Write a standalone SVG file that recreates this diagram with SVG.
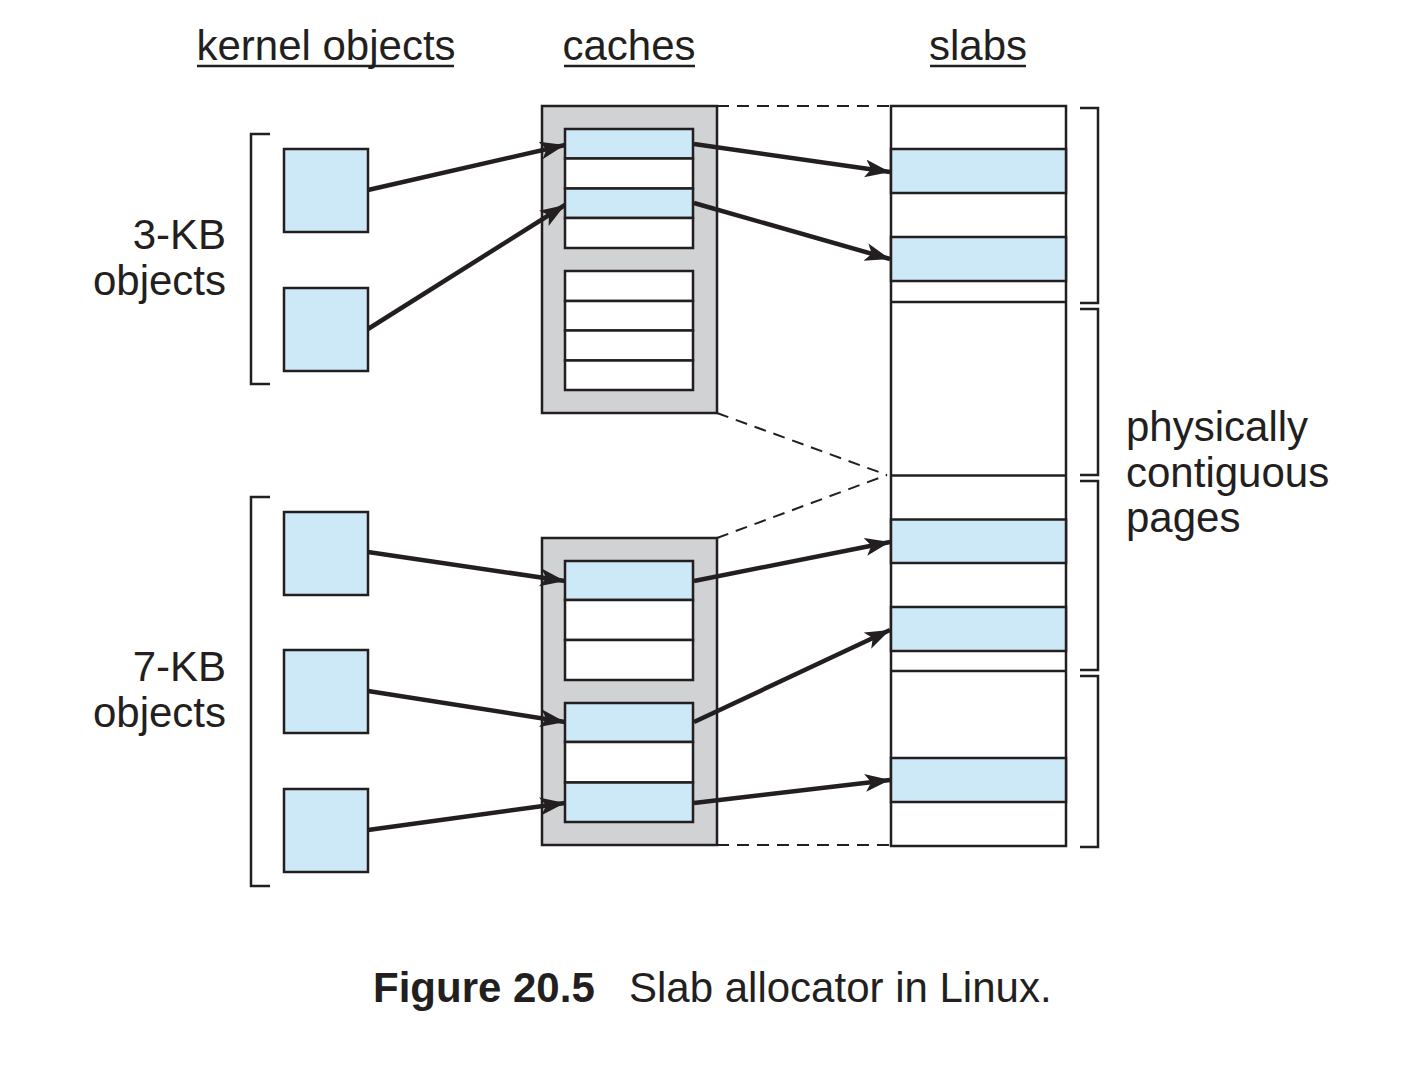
<svg xmlns="http://www.w3.org/2000/svg" width="1424" height="1066" viewBox="0 0 1424 1066">
<style>
text{font-family:"Liberation Sans",Arial,sans-serif;font-size:42px;fill:#231f20}
.hdr{text-anchor:middle}
.obj{fill:#cde8f6;stroke:#231f20;stroke-width:2.5}
.wht{fill:#ffffff;stroke:#231f20;stroke-width:2.5}
.gry{fill:#d1d2d4;stroke:#231f20;stroke-width:2.5}
.brk{fill:none;stroke:#231f20;stroke-width:2.5}
.ul{stroke:#231f20;stroke-width:2.5}
.dash{fill:none;stroke:#231f20;stroke-width:2;stroke-dasharray:12 8}
.arr{fill:none;stroke:#231f20;stroke-width:4.5;marker-end:url(#ah)}
</style>
<defs>
<marker id="ah" markerUnits="userSpaceOnUse" markerWidth="28" markerHeight="20" refX="25" refY="9" orient="auto">
<path d="M0,0 L25,9 L0,18 L6,9 Z" fill="#231f20"/>
</marker>
</defs>
<rect width="1424" height="1066" fill="#ffffff"/>

<g id="headers">
<text class="hdr" x="326" y="60">kernel objects</text>
<line class="ul" x1="197" y1="66" x2="454" y2="66"/>
<text class="hdr" x="629" y="60">caches</text>
<line class="ul" x1="564" y1="66" x2="695" y2="66"/>
<text class="hdr" x="978" y="60">slabs</text>
<line class="ul" x1="930" y1="66" x2="1026" y2="66"/>
</g>

<g id="label-3kb">
<text x="226" y="249" text-anchor="end">3-KB</text>
<text x="226" y="295" text-anchor="end">objects</text>
<path class="brk" d="M270,134 H251 V384 H270"/>
</g>
<g id="label-7kb">
<text x="226" y="681" text-anchor="end">7-KB</text>
<text x="226" y="727" text-anchor="end">objects</text>
<path class="brk" d="M270,497 H251 V886 H270"/>
</g>

<g id="kernel-objects">
<rect id="obj1" class="obj" x="284" y="149" width="84" height="83"/>
<rect id="obj2" class="obj" x="284" y="288" width="84" height="83"/>
<rect id="obj3" class="obj" x="284" y="512" width="84" height="83"/>
<rect id="obj4" class="obj" x="284" y="650" width="84" height="83"/>
<rect id="obj5" class="obj" x="284" y="789" width="84" height="83"/>
</g>

<g id="cache-3kb">
<rect class="gry" x="542" y="106" width="175" height="307"/>
<rect class="obj" x="565" y="129" width="128" height="29.5"/>
<rect class="wht" x="565" y="158.5" width="128" height="30"/>
<rect class="obj" x="565" y="188.5" width="128" height="29.5"/>
<rect class="wht" x="565" y="218" width="128" height="30"/>
<rect class="wht" x="565" y="271" width="128" height="30"/>
<rect class="wht" x="565" y="301" width="128" height="29.5"/>
<rect class="wht" x="565" y="330.5" width="128" height="30"/>
<rect class="wht" x="565" y="360.5" width="128" height="29.5"/>
</g>

<g id="cache-7kb">
<rect class="gry" x="542" y="538" width="175" height="307"/>
<rect class="obj" x="565" y="561" width="128" height="39"/>
<rect class="wht" x="565" y="600" width="128" height="40"/>
<rect class="wht" x="565" y="640" width="128" height="40"/>
<rect class="obj" x="565" y="703" width="128" height="39"/>
<rect class="wht" x="565" y="742" width="128" height="40.5"/>
<rect class="obj" x="565" y="782.5" width="128" height="39.5"/>
</g>

<g id="slabs">
<rect class="wht" x="891" y="106" width="175" height="740"/>
<rect class="obj" x="891" y="149" width="175" height="44"/>
<rect class="obj" x="891" y="237" width="175" height="44"/>
<line class="ul" x1="891" y1="302" x2="1066" y2="302"/>
<line class="ul" x1="891" y1="475.5" x2="1066" y2="475.5"/>
<rect class="obj" x="891" y="519.5" width="175" height="43.5"/>
<rect class="obj" x="891" y="607" width="175" height="44"/>
<line class="ul" x1="891" y1="671" x2="1066" y2="671"/>
<rect class="obj" x="891" y="758" width="175" height="44"/>
</g>

<g id="pages-brackets">
<path class="brk" d="M1080,108 H1098 V303 H1080"/>
<path class="brk" d="M1080,309 H1098 V475 H1080"/>
<path class="brk" d="M1080,481 H1098 V670 H1080"/>
<path class="brk" d="M1080,676 H1098 V847 H1080"/>
<text x="1126" y="441">physically</text>
<text x="1126" y="487">contiguous</text>
<text x="1126" y="532">pages</text>
</g>

<g id="connectors">
<line class="dash" x1="717" y1="106" x2="891" y2="106"/>
<line class="dash" x1="717" y1="413" x2="887" y2="475"/>
<line class="dash" x1="717" y1="538" x2="887" y2="475"/>
<line class="dash" x1="717" y1="845" x2="891" y2="845"/>
<line class="arr" x1="368" y1="190" x2="565" y2="145"/>
<line class="arr" x1="368" y1="329" x2="565" y2="205"/>
<line class="arr" x1="694" y1="144" x2="890" y2="172"/>
<line class="arr" x1="694" y1="203" x2="890" y2="259"/>
<line class="arr" x1="368" y1="552" x2="565" y2="581"/>
<line class="arr" x1="368" y1="691" x2="565" y2="722"/>
<line class="arr" x1="368" y1="830" x2="565" y2="803"/>
<line class="arr" x1="694" y1="581" x2="890" y2="542"/>
<line class="arr" x1="694" y1="722" x2="890" y2="630"/>
<line class="arr" x1="694" y1="803" x2="890" y2="780"/>
</g>

<g id="caption">
<text x="373" y="1002" font-weight="bold">Figure 20.5</text>
<text x="629" y="1002">Slab allocator in Linux.</text>
</g>
</svg>
